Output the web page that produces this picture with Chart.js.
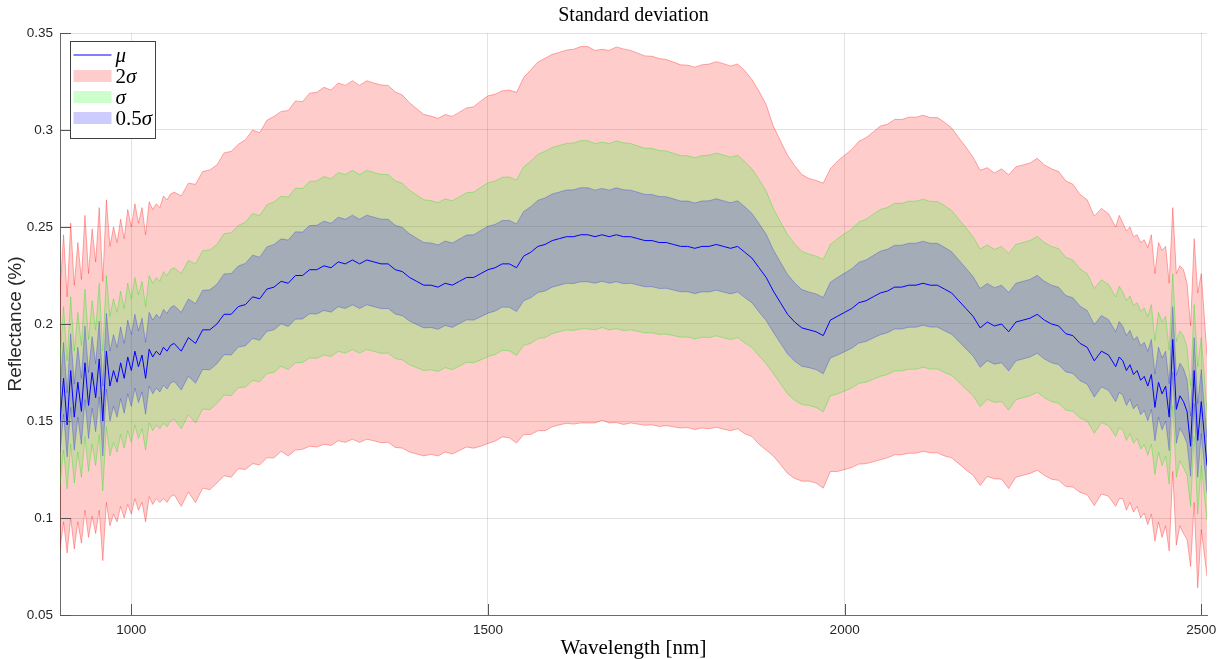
<!DOCTYPE html>
<html>
<head>
<meta charset="utf-8">
<title>Standard deviation</title>
<script src="https://cdn.jsdelivr.net/npm/chart.js@4.4.1/dist/chart.umd.min.js"></script>
<style>
  html, body { margin: 0; padding: 0; background: #ffffff; }
  canvas { display: block; }
</style>
</head>
<body>
<canvas id="chart" width="1220" height="659"></canvas>
<script>
// Wavelength grid (nm): 5 nm steps at the noisy ends, 10 nm in between.
const wavelength = [];
for (let w = 900; w < 1060; w += 5) wavelength.push(w);
for (let w = 1060; w < 2380; w += 10) wavelength.push(w);
for (let w = 2380; w <= 2500; w += 5) wavelength.push(w);
wavelength.push(2508);

// Mean reflectance, 900-1055 nm
const muShort = [
  0.150, 0.172, 0.148, 0.176, 0.152, 0.170, 0.155, 0.180, 0.158, 0.175,
  0.162, 0.182, 0.150, 0.186, 0.168, 0.176, 0.170, 0.180, 0.172, 0.183,
  0.176, 0.186, 0.178, 0.184, 0.172, 0.187, 0.183, 0.186, 0.184, 0.188,
  0.186, 0.189
];
// Mean reflectance, 1060-2370 nm
const muMid = [
  0.190, 0.186, 0.193, 0.190, 0.197, 0.197, 0.200, 0.205, 0.205, 0.209,
  0.210, 0.214, 0.213, 0.218, 0.219, 0.222, 0.221, 0.225, 0.225, 0.228,
  0.228, 0.230, 0.229, 0.232, 0.231, 0.233, 0.231, 0.233, 0.232, 0.231,
  0.231, 0.228, 0.227, 0.224, 0.222, 0.220, 0.220, 0.219, 0.221, 0.220,
  0.222, 0.224, 0.224, 0.226, 0.228, 0.229, 0.231, 0.231, 0.229, 0.235,
  0.237, 0.240, 0.241, 0.243, 0.244, 0.245, 0.245, 0.246, 0.246, 0.245,
  0.246, 0.245, 0.246, 0.245, 0.245, 0.244, 0.243, 0.243, 0.242, 0.242,
  0.241, 0.240, 0.240, 0.239, 0.240, 0.240, 0.241, 0.240, 0.239, 0.240,
  0.237, 0.234, 0.229, 0.224, 0.217, 0.211, 0.205, 0.201, 0.198, 0.197,
  0.196, 0.194, 0.202, 0.204, 0.206, 0.208, 0.211, 0.212, 0.214, 0.216,
  0.217, 0.219, 0.219, 0.220, 0.220, 0.221, 0.220, 0.220, 0.218, 0.216,
  0.212, 0.208, 0.204, 0.198, 0.201, 0.199, 0.200, 0.196, 0.201, 0.202,
  0.203, 0.205, 0.202, 0.200, 0.199, 0.195, 0.194, 0.190, 0.188, 0.181,
  0.186, 0.184
];
// Mean reflectance, 2380-2508 nm
const muLong = [
  0.178, 0.183, 0.181, 0.176, 0.179, 0.174, 0.176, 0.171, 0.173, 0.168,
  0.174, 0.157, 0.170, 0.164, 0.168, 0.152, 0.192, 0.156, 0.163, 0.160,
  0.155, 0.137, 0.176, 0.140, 0.160, 0.127
];

// Standard deviation, 900-1055 nm
const sigmaShort = [
  0.033, 0.037, 0.033, 0.038, 0.034, 0.036, 0.034, 0.038, 0.034, 0.037,
  0.035, 0.039, 0.036, 0.039, 0.036, 0.037, 0.036, 0.037, 0.036, 0.038,
  0.037, 0.038, 0.037, 0.038, 0.037, 0.038, 0.038, 0.038, 0.038, 0.039,
  0.039, 0.039
];
// Standard deviation, 1060-2370 nm
const sigmaMid = [
  0.0390, 0.0400, 0.0398, 0.0410, 0.0408, 0.0412, 0.0410, 0.0416, 0.0420, 0.0418,
  0.0425, 0.0430, 0.0428, 0.0435, 0.0440, 0.0438, 0.0445, 0.0450, 0.0448, 0.0455,
  0.0457, 0.0460, 0.0458, 0.0461, 0.0460, 0.0462, 0.0460, 0.0462, 0.0461, 0.0461,
  0.0460, 0.0458, 0.0455, 0.0450, 0.0445, 0.0440, 0.0436, 0.0435, 0.0435, 0.0435,
  0.0436, 0.0437, 0.0440, 0.0445, 0.0448, 0.0447, 0.0446, 0.0448, 0.0452, 0.0460,
  0.0470, 0.0475, 0.0480, 0.0480, 0.0480, 0.0481, 0.0483, 0.0485, 0.0485, 0.0480,
  0.0478, 0.0480, 0.0484, 0.0484, 0.0480, 0.0478, 0.0476, 0.0475, 0.0474, 0.0472,
  0.0470, 0.0468, 0.0467, 0.0467, 0.0468, 0.0470, 0.0471, 0.0471, 0.0470, 0.0470,
  0.0468, 0.0460, 0.0455, 0.0445, 0.0425, 0.0417, 0.0410, 0.0403, 0.0395, 0.0390,
  0.0390, 0.0393, 0.0390, 0.0400, 0.0405, 0.0410, 0.0416, 0.0420, 0.0425, 0.0430,
  0.0430, 0.0432, 0.0432, 0.0433, 0.0433, 0.0433, 0.0432, 0.0432, 0.0430, 0.0425,
  0.0420, 0.0416, 0.0410, 0.0406, 0.0398, 0.0394, 0.0400, 0.0404, 0.0400, 0.0400,
  0.0400, 0.0402, 0.0400, 0.0400, 0.0398, 0.0394, 0.0390, 0.0384, 0.0380, 0.0373,
  0.0368, 0.0364
];
// Standard deviation, 2380-2508 nm
const sigmaLong = [
  0.0360, 0.0365, 0.0355, 0.0360, 0.0355, 0.0355, 0.0350, 0.0355, 0.0352, 0.0357,
  0.0360, 0.0345, 0.0360, 0.0370, 0.0360, 0.0345, 0.0340, 0.0350, 0.0335, 0.0340,
  0.0330, 0.0310, 0.0340, 0.0380, 0.0330, 0.0285
];

const mu = [...muShort, ...muMid, ...muLong];
const sigma = [...sigmaShort, ...sigmaMid, ...sigmaLong];

// Axis ticks
const xTicks = [1000, 1500, 2000, 2500];
const yTicks = [0.05, 0.1, 0.15, 0.2, 0.25, 0.3, 0.35];
const yTickLabels = ['0.05', '0.1', '0.15', '0.2', '0.25', '0.3', '0.35'];

// Band multipliers
const bandFactors = { wide: 2, mid: 1, narrow: 0.5 };

const points = ys => ys.map((v, i) => ({ x: wavelength[i], y: v }));
const bandEdge = (k, sign) => points(mu.map((m, i) => m + sign * k * sigma[i]));

const bandStyle = (fill, edge) => ({
  backgroundColor: fill,
  borderColor: edge,
  borderWidth: 1,
  pointRadius: 0,
  tension: 0
});

const red = bandStyle('rgba(255,0,0,0.2)', 'rgba(255,0,0,0.32)');
const green = bandStyle('rgba(0,255,0,0.2)', 'rgba(0,230,0,0.32)');
const blue = bandStyle('rgba(0,0,255,0.2)', 'rgba(0,0,255,0.25)');

const datasets = [
  { label: 'mu', data: points(mu), borderColor: 'rgb(0,0,255)', borderWidth: 1, pointRadius: 0, fill: false, tension: 0 },
  { label: '0.5s upper', data: bandEdge(bandFactors.narrow, 1), fill: '+1', ...blue },
  { label: '0.5s lower', data: bandEdge(bandFactors.narrow, -1), fill: false, ...blue },
  { label: 's upper', data: bandEdge(bandFactors.mid, 1), fill: '+1', ...green },
  { label: 's lower', data: bandEdge(bandFactors.mid, -1), fill: false, ...green },
  { label: '2s upper', data: bandEdge(bandFactors.wide, 1), fill: '+1', ...red },
  { label: '2s lower', data: bandEdge(bandFactors.wide, -1), fill: false, ...red }
];

const axisColor = '#6a6a6a';
const textColor = '#262626';
const serif = '"Liberation Serif", "DejaVu Serif", serif';
const sans = '"Liberation Sans", Arial, sans-serif';

// Inward tick marks on the left and bottom axes
const inwardTicks = {
  id: 'inwardTicks',
  afterDatasetsDraw(chart) {
    const { ctx, chartArea: a, scales: { x, y } } = chart;
    ctx.save();
    ctx.strokeStyle = '#555555';
    ctx.lineWidth = 1;
    ctx.beginPath();
    xTicks.forEach(v => {
      const px = Math.round(x.getPixelForValue(v)) + 0.5;
      ctx.moveTo(px, a.bottom);
      ctx.lineTo(px, a.bottom - 11);
    });
    yTicks.forEach(v => {
      const py = Math.round(y.getPixelForValue(v)) + 0.5;
      ctx.moveTo(a.left, py);
      ctx.lineTo(a.left + 11, py);
    });
    ctx.stroke();
    ctx.restore();
  }
};

// Draws a sequence of [text, italic] pieces starting at x
function drawMath(ctx, pieces, x, y, size) {
  let cx = x;
  pieces.forEach(([t, italic]) => {
    ctx.font = (italic ? 'italic ' : '') + size + 'px ' + serif;
    ctx.fillText(t, cx, y);
    cx += ctx.measureText(t).width;
  });
}

// Legend box in the upper-left corner of the plot
const legendBox = {
  id: 'legendBox',
  afterDraw(chart) {
    const { ctx, chartArea: a } = chart;
    const bx = a.left + 10.5, by = a.top + 8.5, bw = 85, bh = 97;
    ctx.save();
    ctx.fillStyle = '#ffffff';
    ctx.fillRect(bx, by, bw, bh);
    ctx.strokeStyle = '#404040';
    ctx.lineWidth = 1;
    ctx.strokeRect(bx, by, bw, bh);

    const sx = bx + 3, sw = 38, tx = bx + 45;
    const rows = [
      { y: by + 13.5, kind: 'line', color: 'rgb(0,0,255)', text: [['\u03bc', true]] },
      { y: by + 34.5, kind: 'patch', color: 'rgb(255,204,204)', text: [['2', false], ['\u03c3', true]] },
      { y: by + 55.5, kind: 'patch', color: 'rgb(204,255,204)', text: [['\u03c3', true]] },
      { y: by + 76.5, kind: 'patch', color: 'rgb(204,204,255)', text: [['0.5', false], ['\u03c3', true]] }
    ];
    rows.forEach(r => {
      if (r.kind === 'line') {
        ctx.strokeStyle = r.color;
        ctx.beginPath();
        ctx.moveTo(sx, r.y);
        ctx.lineTo(sx + sw, r.y);
        ctx.stroke();
      } else {
        ctx.fillStyle = r.color;
        ctx.fillRect(sx, r.y - 6, sw, 12);
      }
      ctx.fillStyle = '#000000';
      ctx.textBaseline = 'middle';
      ctx.textAlign = 'left';
      drawMath(ctx, r.text, tx, r.y + 1, 21);
    });
    ctx.restore();
  }
};

// Title and axis titles
const titles = {
  id: 'titles',
  afterDraw(chart) {
    const { ctx, chartArea: a } = chart;
    const cx = (a.left + a.right) / 2;
    ctx.save();
    ctx.fillStyle = '#000000';
    ctx.textAlign = 'center';
    ctx.textBaseline = 'middle';
    ctx.font = '20px ' + serif;
    ctx.fillText('Standard deviation', cx, 16);
    ctx.font = '21px ' + serif;
    ctx.fillText('Wavelength [nm]', cx, 648);
    ctx.translate(16, (a.top + a.bottom) / 2);
    ctx.rotate(-Math.PI / 2);
    ctx.fillStyle = textColor;
    ctx.font = '19px ' + sans;
    ctx.fillText('Reflectance (%)', 0, 0);
    ctx.restore();
  }
};

new Chart(document.getElementById('chart'), {
  type: 'line',
  data: { datasets },
  options: {
    responsive: false,
    animation: false,
    events: [],
    layout: { padding: { top: 33, right: 13, left: 0, bottom: 0 } },
    plugins: {
      legend: { display: false },
      tooltip: { enabled: false },
      title: { display: false },
      filler: { propagate: false }
    },
    scales: {
      x: {
        type: 'linear',
        min: 900,
        max: 2508,
        afterBuildTicks: s => { s.ticks = xTicks.map(v => ({ value: v })); },
        afterFit: s => { s.height = 44; s.paddingLeft = 0; s.paddingRight = 0; },
        grid: { color: 'rgba(38,38,38,0.13)', lineWidth: 1, drawTicks: false },
        border: { display: true, color: axisColor, width: 1 },
        ticks: {
          padding: 7,
          color: textColor,
          font: { family: sans, size: 13.5 },
          maxRotation: 0,
          autoSkip: false,
          callback: v => String(v)
        }
      },
      y: {
        type: 'linear',
        min: 0.05,
        max: 0.35,
        afterBuildTicks: s => { s.ticks = yTicks.map(v => ({ value: v })); },
        afterFit: s => { s.width = 60; s.paddingTop = 0; s.paddingBottom = 0; },
        grid: { color: 'rgba(38,38,38,0.13)', lineWidth: 1, drawTicks: false },
        border: { display: true, color: axisColor, width: 1 },
        ticks: {
          padding: 7,
          color: textColor,
          font: { family: sans, size: 13.5 },
          autoSkip: false,
          callback: (v, i) => yTickLabels[i]
        }
      }
    }
  },
  plugins: [inwardTicks, legendBox, titles]
});
</script>
</body>
</html>
